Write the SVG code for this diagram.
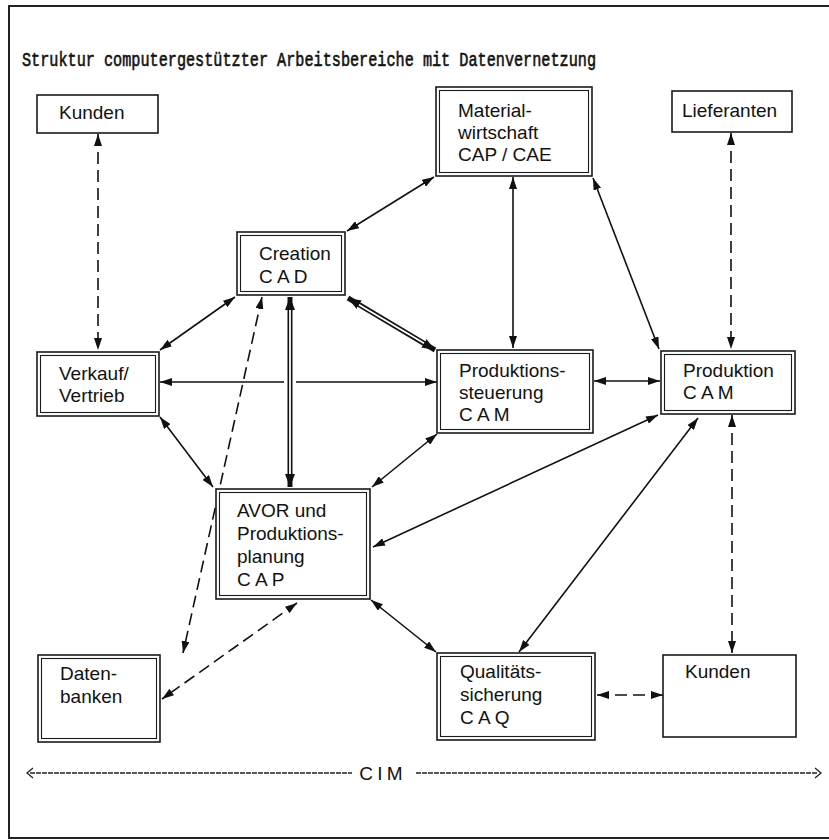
<svg xmlns="http://www.w3.org/2000/svg" width="829" height="840" viewBox="0 0 829 840">
<style>
.bg{fill:#fff}
.frame{fill:none;stroke:#222;stroke-width:2}
.box{fill:#fff;stroke:#1a1a1a;stroke-width:1.6}
.inner{fill:none;stroke:#1a1a1a;stroke-width:1.1}
.t{font-family:"Liberation Sans",Arial,sans-serif;font-size:19px;fill:#111}
.title{font-family:"Liberation Mono","Courier New",monospace;font-size:20px;fill:#111;stroke:#111;stroke-width:0.6}
.c{fill:none;stroke:#111;stroke-width:1.6;marker-start:url(#ah);marker-end:url(#ah)}
.d{fill:none;stroke:#111;stroke-width:1.6;stroke-dasharray:12 6;marker-start:url(#ah);marker-end:url(#ah)}
.dbl{fill:none;stroke:#111;stroke-width:5;marker-start:url(#ahw);marker-end:url(#ahw)}
.dblw{fill:none;stroke:#fff;stroke-width:1.8}
.cim{fill:none;stroke:#222;stroke-width:1.4;stroke-dasharray:5 1}
</style>
<defs>
<marker id="ah" viewBox="0 0 12 8" refX="12" refY="4" markerWidth="12" markerHeight="8" markerUnits="userSpaceOnUse" orient="auto-start-reverse"><path d="M0,0 L12,4 L0,8 z" fill="#111"/></marker>
<marker id="ahw" viewBox="0 0 13 10" refX="13" refY="5" markerWidth="13" markerHeight="10" markerUnits="userSpaceOnUse" orient="auto-start-reverse"><path d="M0,0 L13,5 L0,10 z" fill="#111"/></marker>
</defs>
<rect class="bg" x="0" y="0" width="829" height="840"/>
<path class="frame" d="M829,6 H9 V838 H829"/>
<text class="title" x="22" y="66" textLength="574" lengthAdjust="spacingAndGlyphs">Struktur computergestützter Arbeitsbereiche mit Datenvernetzung</text>

<g id="connectors">
<path class="d" d="M98,134 V350"/>
<path class="d" d="M731,133 V349"/>
<path class="c" d="M434,177 L347,231"/>
<path class="c" d="M513,177 V348"/>
<path class="c" d="M593,178 L659,349"/>
<path class="c" d="M235,297 L160,350"/>
<path class="d" d="M262,297 L183,653"/>
<path class="c" d="M437,382 H296 M284,382 H160"/>
<path class="c" d="M160,417 L213,487"/>
<path class="c" d="M437,434 L372,487"/>
<path class="c" d="M594,381 H660"/>
<path class="c" d="M658,415 L373,547"/>
<path class="c" d="M698,418 L519,652"/>
<path class="d" d="M732,415 V653"/>
<path class="d" d="M297,603 L162,699"/>
<path class="c" d="M371,600 L436,652"/>
<path class="d" d="M597,695 H663"/>
<path class="dbl" d="M290,297 V487"/>
<path class="dblw" d="M290,310 V474"/>
<path class="dbl" d="M348,298 L435,350"/>
<path class="dblw" d="M359,304.7 L424,343.3"/>
</g>

<g id="kunden-top">
<rect class="box" x="37" y="95" width="121" height="38"/>
<text class="t" x="59" y="119">Kunden</text>
</g>
<g id="materialwirtschaft">
<rect class="box" x="436" y="87" width="156" height="89"/>
<rect class="inner" x="439.5" y="90.5" width="149" height="82"/>
<text class="t" x="458" y="117">Material-</text>
<text class="t" x="458" y="139">wirtschaft</text>
<text class="t" x="458" y="161">CAP / CAE</text>
</g>
<g id="lieferanten">
<rect class="box" x="672" y="91" width="120" height="41"/>
<text class="t" x="682" y="117">Lieferanten</text>
</g>
<g id="creation">
<rect class="box" x="237" y="232" width="108" height="63"/>
<rect class="inner" x="240.5" y="235.5" width="101" height="56"/>
<text class="t" x="259" y="260">Creation</text>
<text class="t" x="259" y="283">C A D</text>
</g>
<g id="verkauf">
<rect class="box" x="37" y="352" width="122" height="64"/>
<rect class="inner" x="40.5" y="355.5" width="115" height="57"/>
<text class="t" x="59" y="380">Verkauf/</text>
<text class="t" x="59" y="402">Vertrieb</text>
</g>
<g id="produktionssteuerung">
<rect class="box" x="437" y="350" width="156" height="83"/>
<rect class="inner" x="440.5" y="353.5" width="149" height="76"/>
<text class="t" x="459" y="377">Produktions-</text>
<text class="t" x="459" y="399">steuerung</text>
<text class="t" x="459" y="421">C A M</text>
</g>
<g id="produktion">
<rect class="box" x="661" y="351" width="134" height="63"/>
<rect class="inner" x="664.5" y="354.5" width="127" height="56"/>
<text class="t" x="683" y="377">Produktion</text>
<text class="t" x="683" y="399">C A M</text>
</g>
<g id="avor">
<rect class="box" x="216" y="489" width="154" height="110"/>
<rect class="inner" x="219.5" y="492.5" width="147" height="103"/>
<text class="t" x="237" y="517">AVOR und</text>
<text class="t" x="237" y="540">Produktions-</text>
<text class="t" x="237" y="563">planung</text>
<text class="t" x="237" y="586">C A P</text>
</g>
<g id="datenbanken">
<rect class="box" x="38" y="655" width="122" height="87"/>
<rect class="inner" x="41.5" y="658.5" width="115" height="80"/>
<text class="t" x="60" y="680">Daten-</text>
<text class="t" x="60" y="703">banken</text>
</g>
<g id="qualitaet">
<rect class="box" x="437" y="653" width="158" height="87"/>
<rect class="inner" x="440.5" y="656.5" width="151" height="80"/>
<text class="t" x="460" y="678">Qualitäts-</text>
<text class="t" x="460" y="701">sicherung</text>
<text class="t" x="460" y="724">C A Q</text>
</g>
<g id="kunden-bottom">
<rect class="box" x="663" y="655" width="133" height="82"/>
<text class="t" x="685" y="678">Kunden</text>
</g>

<g id="cim">
<path fill="none" stroke="#222" stroke-width="1.3" d="M33,768 L27,773 L33,778"/>
<line class="cim" x1="30" y1="773" x2="352" y2="773"/>
<text class="t" x="381" y="780" text-anchor="middle" font-size="19" word-spacing="-1">C I M</text>
<line class="cim" x1="416" y1="773" x2="818" y2="773"/>
<path fill="none" stroke="#222" stroke-width="1.3" d="M815,768 L821,773 L815,778"/>
</g>
</svg>
